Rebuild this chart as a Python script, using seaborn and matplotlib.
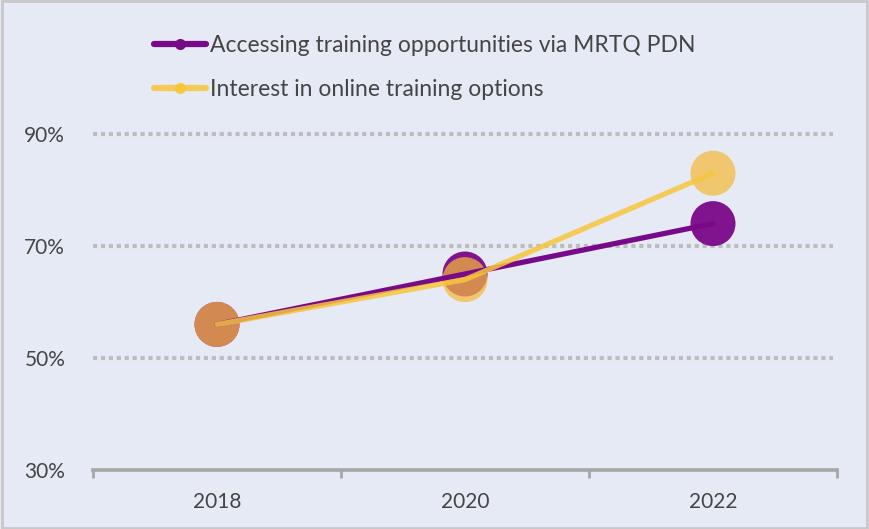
import pandas as pd
import matplotlib.pyplot as plt
import seaborn as sns
from matplotlib.lines import Line2D
from matplotlib.patches import Rectangle

years = ['2018', '2020', '2022']
accessing = [56, 65, 74]   # Accessing training opportunities via MRTQ PDN
interest = [56, 64, 83]    # Interest in online training options
series_names = ['Accessing training opportunities via MRTQ PDN',
                'Interest in online training options']
y_ticks = [30, 50, 70, 90]

df = pd.DataFrame({
    'year': years * 2,
    'value': accessing + interest,
    'series': [series_names[0]] * 3 + [series_names[1]] * 3,
})

sns.set_style('white')
plt.rcParams['font.family'] = ['Lato', 'DejaVu Sans']

bg = '#E6EAF4'
purple_line = '#780A8A'
yellow_line = '#F7C63E'
purple_dot = '#80148F'
yellow_dot = '#F4B83A'
text_col = '#454545'

fig = plt.figure(figsize=(8.69, 5.29), dpi=100, facecolor=bg)
ax = fig.add_axes([93 / 869, 1 - 470 / 529, 744 / 869, (470 - 134) / 529])
ax.set_facecolor('none')

# big markers
sns.scatterplot(data=df[df.series == series_names[0]], x='year', y='value',
                color=purple_dot, s=1050, edgecolor='none', ax=ax, zorder=3,
                clip_on=False, legend=False)
sns.scatterplot(data=df[df.series == series_names[1]], x='year', y='value',
                color=yellow_dot, s=1050, edgecolor='none', alpha=0.72, ax=ax,
                zorder=4, clip_on=False, legend=False)

# lines on top
sns.lineplot(data=df, x='year', y='value', hue='series',
             palette=[purple_line, yellow_line], linewidth=3.8, ax=ax,
             legend=False, zorder=5, solid_capstyle='round')
for ln, a in zip(ax.lines, [1.0, 0.85]):
    ln.set_alpha(a)
    ln.set_clip_on(False)

ax.set_xlim(-0.5, 2.5)
ax.set_ylim(30, 90)
ax.set_yticks(y_ticks)
ax.set_yticklabels([f'{v}%' for v in y_ticks])
ax.set_xlabel('')
ax.set_ylabel('')

for v in y_ticks[1:]:
    ax.axhline(v, color='#BDBDBD', linewidth=3, linestyle=(0, (1, 0.9)),
               xmax=0.995, zorder=1, clip_on=False)

for s in ['top', 'right', 'left']:
    ax.spines[s].set_visible(False)
ax.spines['bottom'].set_color('#A6A6A6')
ax.spines['bottom'].set_linewidth(2.6)
ax.set_xticks([-0.5, 0.5, 1.5, 2.5], minor=True)
ax.tick_params(axis='x', which='minor', bottom=True, length=6, width=2,
               color='#A6A6A6', direction='out')
ax.tick_params(axis='x', which='major', length=0, pad=16, labelsize=15,
               labelcolor=text_col)
ax.tick_params(axis='y', length=0, pad=20, labelsize=15, labelcolor=text_col)

handles = [Line2D([], [], color=purple_line, linewidth=4.5, marker='o',
                  markersize=8, markerfacecolor=purple_line, markeredgewidth=0),
           Line2D([], [], color=yellow_line, alpha=0.85, linewidth=4.5,
                  marker='o', markersize=8, markerfacecolor='#F9C22E',
                  markeredgewidth=0)]
leg = fig.legend(handles, series_names, loc='upper left',
                 bbox_to_anchor=(133 / 869, 1 - 14 / 529), frameon=False,
                 fontsize=16.5, handlelength=2.3, handletextpad=0.15,
                 labelspacing=1.0, labelcolor=text_col)

fig.patches.append(Rectangle((0.002, 0.002), 0.996, 0.996,
                             transform=fig.transFigure, fill=False,
                             edgecolor='#C8C8C8', linewidth=2))

plt.savefig('out.png', dpi=100, facecolor=bg)
